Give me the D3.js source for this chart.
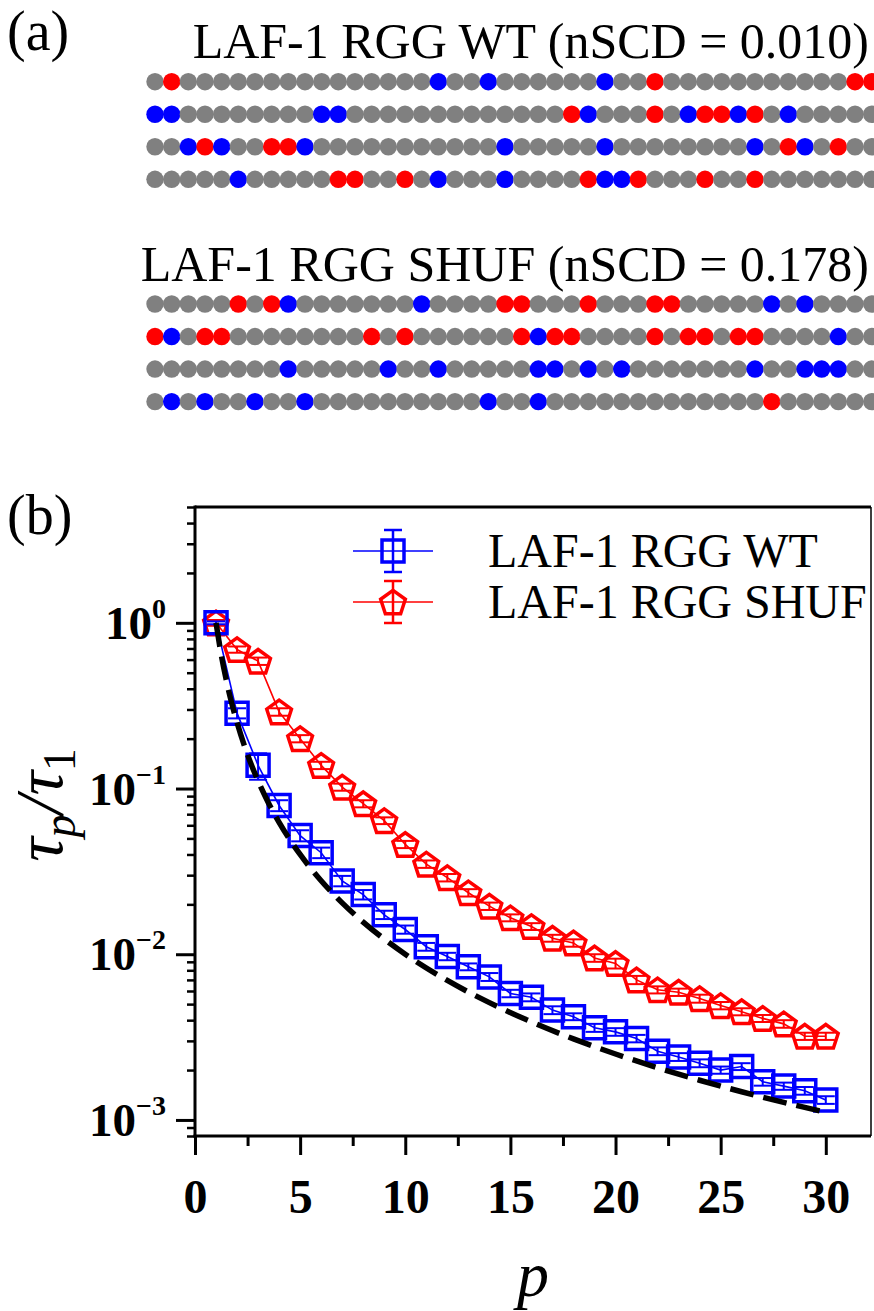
<!DOCTYPE html>
<html>
<head>
<meta charset="utf-8">
<script src="https://cdn.jsdelivr.net/npm/d3@7"></script>
<style>
  body { margin: 0; background: #fff; }
  svg { display: block; }
  text { font-family: "Liberation Serif", "Times New Roman", serif; }
</style>
</head>
<body>
<svg id="fig" width="874" height="1311"></svg>
<script>
// ---- (a) charge patterns, one string per displayed row: "+" blue, "-" red, "." neutral
const wtRows = [
  ".-...............+..+......+..-...........--",
  "++........++.............-+...-.+--+-.+.....",
  "..+-+..--+...........+.....+........+.-+.-..",
  ".....+.....--..-.+...+....-++-...-..-......."
];
const shufRows = [
  ".....-.-+.......+....--...-...--.....+.+....",
  "-+.--........-.-......-+--....-.--.--....+..",
  "........+.....+..+.....++.+.+.......+..+++..",
  ".+.+..+..+..........+..+.............-......"
];
const wtTitle = "LAF-1 RGG WT (nSCD = 0.010)";
const shufTitle = "LAF-1 RGG SHUF (nSCD = 0.178)";

// ---- (b) relaxation times of the Rouse modes
const modes = d3.range(1, 31);
const wtTau = [1.0, 0.285, 0.138, 0.079, 0.052, 0.041, 0.0277, 0.0229, 0.0173, 0.0141,
  0.0111, 0.0097, 0.0084, 0.0073, 0.0058, 0.0055, 0.0046, 0.0042, 0.0036, 0.0034,
  0.0031, 0.0026, 0.0024, 0.0022, 0.0020, 0.0021, 0.0017, 0.0016, 0.0015, 0.00132];
const wtErr = [0.02, 0.02, 0.025, 0.006, 0.004, 0.003, 0.002, 0.0015, 0.001, 0.0008,
  0.0006, 0.0005, 0.0004, 0.0004, 0.0003, 0.0003, 0.00025, 0.0002, 0.0002, 0.00018,
  0.00016, 0.00014, 0.00013, 0.00012, 0.0001, 0.0001, 0.00009, 0.00008, 0.00008, 0.00007];
const shufTau = [1.0, 0.69, 0.587, 0.29, 0.20, 0.138, 0.102, 0.081, 0.064, 0.046,
  0.035, 0.029, 0.0235, 0.0195, 0.0166, 0.0147, 0.0125, 0.0117, 0.0095, 0.0088,
  0.0070, 0.0061, 0.0059, 0.0054, 0.0049, 0.0045, 0.0041, 0.0038, 0.0032, 0.0032];
const shufErr = [0.04, 0.03, 0.03, 0.015, 0.01, 0.007, 0.005, 0.004, 0.003, 0.0023,
  0.0018, 0.0015, 0.0012, 0.001, 0.0008, 0.0007, 0.0006, 0.0006, 0.0005, 0.0006,
  0.0004, 0.0003, 0.0003, 0.0003, 0.00025, 0.00022, 0.0002, 0.0002, 0.00016, 0.00016];
// ideal-chain reference, tau_p / tau_1 = p^-2
const idealP   = [1, 1.25, 1.5, 1.75, 2, 2.5, 3, 3.5, 4, 5, 6, 7, 8, 9, 10, 12, 14, 16, 18, 20, 22, 24, 26, 28, 30];
const idealTau = [1, 0.64, 0.4444, 0.3265, 0.25, 0.16, 0.1111, 0.08163, 0.0625, 0.04, 0.02778, 0.02041,
  0.01563, 0.01235, 0.01, 0.006944, 0.005102, 0.003906, 0.003086, 0.0025, 0.002066, 0.001736,
  0.001479, 0.001276, 0.001111];
const seriesNames = ["LAF-1 RGG WT", "LAF-1 RGG SHUF"];
const xTicks = [0, 5, 10, 15, 20, 25, 30];
const xMinor = [2.5, 7.5, 12.5, 17.5, 22.5, 27.5];
const yTicks = [1, 0.1, 0.01, 0.001];
const yTickExp = ["0", "\u22121", "\u22122", "\u22123"];

const colors = { "+": "#0000ff", "-": "#ff0000", ".": "#808080" };
const BLUE = "#0000ff", RED = "#ff0000";

const svg = d3.select("#fig");

// ================= panel (a) =================
svg.append("text").attr("x", 7).attr("y", 50)
  .attr("font-size", 56).text("(a)");

const beadX = d3.scaleLinear().domain([0, 43]).range([155, 871.7]);

function drawBlock(rows, title, titleY, rowTop) {
  svg.append("text").attr("x", 869).attr("y", titleY)
    .attr("text-anchor", "end").attr("font-size", 50).text(title);
  const rowY = d3.scalePoint().domain(d3.range(rows.length)).range([rowTop, rowTop + 97.6]);
  rows.forEach((row, r) => {
    svg.append("g").selectAll("circle")
      .data(row.split(""))
      .join("circle")
      .attr("cx", (d, i) => beadX(i))
      .attr("cy", rowY(r))
      .attr("r", 8.7)
      .attr("fill", d => colors[d]);
  });
}
drawBlock(wtRows, wtTitle, 58, 81.7);
drawBlock(shufRows, shufTitle, 281, 304);

// ================= panel (b) =================
svg.append("text").attr("x", 7).attr("y", 534)
  .attr("font-size", 56).text("(b)");

const L = 195, R = 871, T = 507, B = 1136;
const x = d3.scaleLinear().domain([0, 32.15]).range([L, R]);
const y = d3.scaleLog().domain([8e-4, 5]).range([B, T]);

// frame
svg.append("line").attr("x1", L).attr("x2", R).attr("y1", T).attr("y2", T)
  .attr("stroke", "#000").attr("stroke-width", 3);
svg.append("line").attr("x1", R).attr("x2", R).attr("y1", T).attr("y2", B)
  .attr("stroke", "#000").attr("stroke-width", 1.5);

// x axis
const gx = svg.append("g").attr("transform", `translate(0,${B})`)
  .call(d3.axisBottom(x).tickValues(xTicks).tickSize(19).tickPadding(24).tickFormat(d3.format("d")));
svg.append("g").attr("transform", `translate(0,${B})`)
  .call(d3.axisBottom(x).tickValues(xMinor).tickSize(10).tickFormat(""))
  .select(".domain").remove();
gx.select(".domain").attr("stroke-width", 3).attr("d", `M${L - 1.5},0H${R}`);
gx.selectAll(".tick text").attr("font-size", 48).attr("font-weight", "bold")
  .attr("font-family", "Liberation Serif, serif").attr("fill", "#000");
svg.selectAll("g .tick line").attr("stroke-width", 3);

// y axis
const yMinor = [];
[-4, -3, -2, -1, 0].forEach(k => d3.range(2, 10).forEach(m => {
  const v = m * Math.pow(10, k);
  if (v >= 8e-4 && v <= 5) yMinor.push(v);
}));
const gy = svg.append("g").attr("transform", `translate(${L},0)`)
  .call(d3.axisLeft(y).tickValues(yTicks).tickSize(19).tickFormat(""));
svg.append("g").attr("transform", `translate(${L},0)`)
  .call(d3.axisLeft(y).tickValues(yMinor).tickSize(8).tickFormat(""))
  .call(g => g.select(".domain").remove())
  .selectAll(".tick line").attr("stroke-width", 2.5);
gy.select(".domain").attr("stroke-width", 3).attr("d", `M0,${T - 1.5}V${B + 1.5}`);
gy.selectAll(".tick line").attr("stroke-width", 3);

const ylab = svg.append("g").selectAll("text").data(yTicks).join("text")
  .attr("x", 166).attr("y", d => y(d) + 16)
  .attr("text-anchor", "end").attr("font-weight", "bold").attr("font-size", 47);
ylab.append("tspan").text("10");
ylab.append("tspan").attr("dy", -21).attr("font-size", 28).text((d, i) => yTickExp[i]);

// axis titles
svg.append("text").attr("x", (L + R) / 2).attr("y", 1296)
  .attr("text-anchor", "middle").attr("font-size", 64).attr("font-style", "italic").text("p");
const yt = svg.append("text")
  .attr("transform", `translate(62,805) rotate(-90)`)
  .attr("text-anchor", "middle").attr("font-size", 68).attr("font-style", "italic");
yt.append("tspan").text("\u03c4");
yt.append("tspan").attr("font-size", 46).attr("dy", 13).text("p");
yt.append("tspan").attr("dy", -13).text("/\u03c4");
yt.append("tspan").attr("font-size", 46).attr("dy", 13).attr("font-style", "normal").text("1");

// markers
const pentagon = {
  draw(ctx, size) {
    const r = Math.sqrt(size / 2.3776);
    for (let k = 0; k < 5; k++) {
      const a = -Math.PI / 2 + k * 2 * Math.PI / 5;
      const px = r * Math.cos(a), py = r * Math.sin(a) + r * 0.1;
      if (k === 0) ctx.moveTo(px, py); else ctx.lineTo(px, py);
    }
    ctx.closePath();
  }
};
const squarePath = d3.symbol().type(d3.symbolSquare).size(22 * 22)();
const pentaPath = d3.symbol().type(pentagon).size(2.3776 * 13 * 13)();

const plot = svg.append("g");

function drawSeries(vals, errs, color, path) {
  const pts = modes.map((p, i) => ({ p, v: vals[i], e: errs[i] }));
  const g = plot.append("g");
  g.append("path").datum(pts)
    .attr("d", d3.line().x(d => x(d.p)).y(d => y(d.v)))
    .attr("fill", "none").attr("stroke", color).attr("stroke-width", 1.6);
  const eb = g.append("g").selectAll("g").data(pts).join("g")
    .attr("stroke", color).attr("stroke-width", 2);
  eb.append("line").attr("x1", d => x(d.p)).attr("x2", d => x(d.p))
    .attr("y1", d => y(d.v + d.e)).attr("y2", d => y(d.v - d.e));
  eb.append("line").attr("x1", d => x(d.p) - 9).attr("x2", d => x(d.p) + 9)
    .attr("y1", d => y(d.v + d.e)).attr("y2", d => y(d.v + d.e));
  eb.append("line").attr("x1", d => x(d.p) - 9).attr("x2", d => x(d.p) + 9)
    .attr("y1", d => y(d.v - d.e)).attr("y2", d => y(d.v - d.e));
  g.append("g").selectAll("path").data(pts).join("path")
    .attr("transform", d => `translate(${x(d.p)},${y(d.v)})`)
    .attr("d", path).attr("fill", "none").attr("stroke", color).attr("stroke-width", 3.5);
}
drawSeries(shufTau, shufErr, RED, pentaPath);
drawSeries(wtTau, wtErr, BLUE, squarePath);

// ideal-chain dashed curve
plot.append("path")
  .datum(idealP.map((p, i) => [p, idealTau[i]]))
  .attr("d", d3.line().x(d => x(d[0])).y(d => y(d[1])).curve(d3.curveMonotoneX))
  .attr("fill", "none").attr("stroke", "#000").attr("stroke-width", 5.5)
  .attr("stroke-dasharray", "24,10");

// legend
const legend = svg.append("g");
[[BLUE, squarePath, 551], [RED, pentaPath, 602]].forEach(([c, path, ly], i) => {
  const lg = legend.append("g").attr("stroke", c);
  lg.append("line").attr("x1", 353).attr("x2", 433).attr("y1", ly).attr("y2", ly).attr("stroke-width", 1.6);
  lg.append("line").attr("x1", 393).attr("x2", 393).attr("y1", ly - 21).attr("y2", ly + 21).attr("stroke-width", 2.5);
  lg.append("line").attr("x1", 384).attr("x2", 402).attr("y1", ly - 21).attr("y2", ly - 21).attr("stroke-width", 2.5);
  lg.append("line").attr("x1", 384).attr("x2", 402).attr("y1", ly + 21).attr("y2", ly + 21).attr("stroke-width", 2.5);
  lg.append("path").attr("transform", `translate(393,${ly})`).attr("d", path)
    .attr("fill", "none").attr("stroke-width", 3.5);
  legend.append("text").attr("x", 488).attr("y", ly + 16).attr("font-size", 48)
    .text(seriesNames[i]);
});
</script>
</body>
</html>
